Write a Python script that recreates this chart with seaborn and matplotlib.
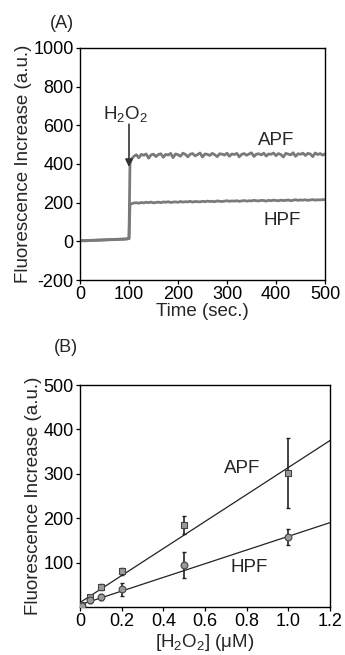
import numpy as np
import pandas as pd
import matplotlib
matplotlib.use("Agg")
import matplotlib.pyplot as plt
import seaborn as sns

sns.set_theme(style="ticks")
plt.rcParams["font.family"] = ["Liberation Sans", "DejaVu Sans"]
plt.rcParams["mathtext.fontset"] = "custom"
plt.rcParams["mathtext.rm"] = "Liberation Sans"
plt.rcParams["mathtext.it"] = "Liberation Sans"
plt.rcParams["axes.unicode_minus"] = False

# ---- Panel A: time course ----
time_s = [0, 5, 10, 15, 20, 25, 30, 35, 40, 45, 50, 55, 60, 65, 70, 75, 80, 85, 90, 95, 100,
          102, 105,
          110, 115, 120, 125, 130, 135, 140, 145, 150, 155,
          160, 165, 170, 175, 180, 185, 190, 195, 200, 205,
          210, 215, 220, 225, 230, 235, 240, 245, 250, 255,
          260, 265, 270, 275, 280, 285, 290, 295, 300, 305,
          310, 315, 320, 325, 330, 335, 340, 345, 350, 355,
          360, 365, 370, 375, 380, 385, 390, 395, 400, 405,
          410, 415, 420, 425, 430, 435, 440, 445, 450, 455,
          460, 465, 470, 475, 480, 485, 490, 495, 500]
apf_trace = [3, 4, 2, 5, 4, 6, 5, 7, 6, 8, 7, 9, 8, 10, 9, 11, 10, 12, 11, 13, 15,
             405, 425,
             440, 448, 432, 450, 445, 452, 430, 447, 451, 438,
             449, 453, 435, 450, 446, 455, 433, 452, 448, 440,
             456, 450, 437, 451, 454, 442, 449, 457, 436, 452,
             450, 444, 455, 448, 438, 453, 451, 446, 456, 440,
             452, 449, 455, 437, 450, 454, 445, 452, 458, 439,
             451, 453, 447, 456, 441, 452, 450, 457, 443, 454,
             449, 436, 455, 451, 447, 458, 440, 453, 450, 456,
             444, 455, 452, 438, 457, 449, 454, 446, 452]
hpf_trace = [2, 3, 4, 3, 5, 4, 6, 5, 7, 6, 8, 7, 9, 8, 10, 9, 11, 10, 12, 12, 14,
             188, 195,
             198, 200, 197, 201, 199, 202, 200, 203, 199, 201,
             203, 200, 204, 202, 205, 201, 203, 204, 202, 206,
             203, 205, 204, 207, 203, 206, 205, 204, 207, 205,
             208, 206, 207, 205, 209, 207, 206, 208, 210, 207,
             209, 208, 210, 207, 209, 211, 208, 210, 209, 212,
             210, 209, 212, 211, 208, 212, 210, 213, 211, 210,
             213, 211, 212, 214, 210, 213, 215, 212, 214, 213,
             215, 212, 214, 216, 213, 215, 214, 216, 215]

# ---- Panel B: dose response ----
conc_uM = [0.01, 0.05, 0.1, 0.2, 0.5, 1.0]
apf_mean = [5, 22, 45, 80, 185, 302]
apf_err = [3, 5, 6, 8, 20, 78]
hpf_mean = [3, 15, 22, 40, 95, 158]
hpf_err = [2, 5, 7, 15, 30, 18]
fit_x = [0.0, 1.2]
apf_fit = [10, 375]
hpf_fit = [5, 190]

W, H = 345, 655
fig = plt.figure(figsize=(W / 100, H / 100), dpi=100)
axA = fig.add_axes([80 / W, 1 - 280 / H, 245 / W, 232 / H])
axB = fig.add_axes([80 / W, 1 - 607 / H, 250 / W, 222 / H])

FS_TICK = 13
FS_LAB = 13.5

trace_color = "#7a7a7a"
dfA = pd.DataFrame({"t": time_s, "APF": apf_trace, "HPF": hpf_trace})
for col in ["HPF", "APF"]:
    sns.lineplot(data=dfA, x="t", y=col, ax=axA, color=trace_color, lw=2.0,
                 estimator=None, sort=False)
axA.set_xlim(0, 500)
axA.set_ylim(-200, 1000)
axA.set_xticks([0, 100, 200, 300, 400, 500])
axA.set_yticks([-200, 0, 200, 400, 600, 800, 1000])
axA.set_xlabel("Time (sec.)", fontsize=FS_LAB, labelpad=0)
axA.set_ylabel("Fluorescence Increase (a.u.)", fontsize=FS_LAB, labelpad=1)
axA.annotate("", xy=(100, 370), xytext=(100, 620),
             arrowprops=dict(arrowstyle="-|>", color="#333333", lw=1.2,
                             mutation_scale=11))
axA.text(92, 660, r"H$_2$O$_2$", fontsize=FS_LAB, ha="center", va="center")
axA.text(400, 524, "APF", fontsize=FS_LAB, ha="center", va="center")
axA.text(412, 110, "HPF", fontsize=FS_LAB, ha="center", va="center")

# Panel B
sns.lineplot(x=fit_x, y=apf_fit, ax=axB, color="#222222", lw=0.9)
sns.lineplot(x=fit_x, y=hpf_fit, ax=axB, color="#222222", lw=0.9)
axB.errorbar(conc_uM, apf_mean, yerr=apf_err, fmt="none", ecolor="#222222",
             elinewidth=1.2, capsize=1.5)
axB.errorbar(conc_uM, hpf_mean, yerr=hpf_err, fmt="none", ecolor="#222222",
             elinewidth=1.2, capsize=1.5)
sns.scatterplot(x=conc_uM, y=apf_mean, ax=axB, marker="s", s=24,
                color="#9a9a9a", edgecolor="#444444", linewidth=0.8, zorder=5)
sns.scatterplot(x=conc_uM, y=hpf_mean, ax=axB, marker="o", s=24,
                color="#9a9a9a", edgecolor="#444444", linewidth=0.8, zorder=5)
axB.set_xlim(0, 1.2)
axB.set_ylim(0, 500)
axB.set_xticks([0, 0.2, 0.4, 0.6, 0.8, 1.0, 1.2])
axB.set_xticklabels(["0", "0.2", "0.4", "0.6", "0.8", "1.0", "1.2"])
axB.set_yticks([100, 200, 300, 400, 500])
axB.set_xlabel(r"[H$_2$O$_2$] ($\mu$M)", fontsize=FS_LAB, labelpad=1)
axB.set_ylabel("Fluorescence Increase (a.u.)", fontsize=FS_LAB, labelpad=1)
axB.text(0.78, 313, "APF", fontsize=FS_LAB, ha="center", va="center")
axB.text(0.81, 88, "HPF", fontsize=FS_LAB, ha="center", va="center")

for ax in (axA, axB):
    for sp in ax.spines.values():
        sp.set_visible(True)
        sp.set_color("black")
        sp.set_linewidth(1.0)
    ax.tick_params(direction="out", length=3, width=0.9, labelsize=FS_TICK,
                   pad=1.5, colors="black")

fig.text(0.18, 1 - 24 / H, "(A)", fontsize=FS_TICK, ha="center", va="center")
fig.text(0.19, 1 - 348 / H, "(B)", fontsize=FS_TICK, ha="center", va="center")

fig.savefig("out.png", dpi=100, facecolor="white")
